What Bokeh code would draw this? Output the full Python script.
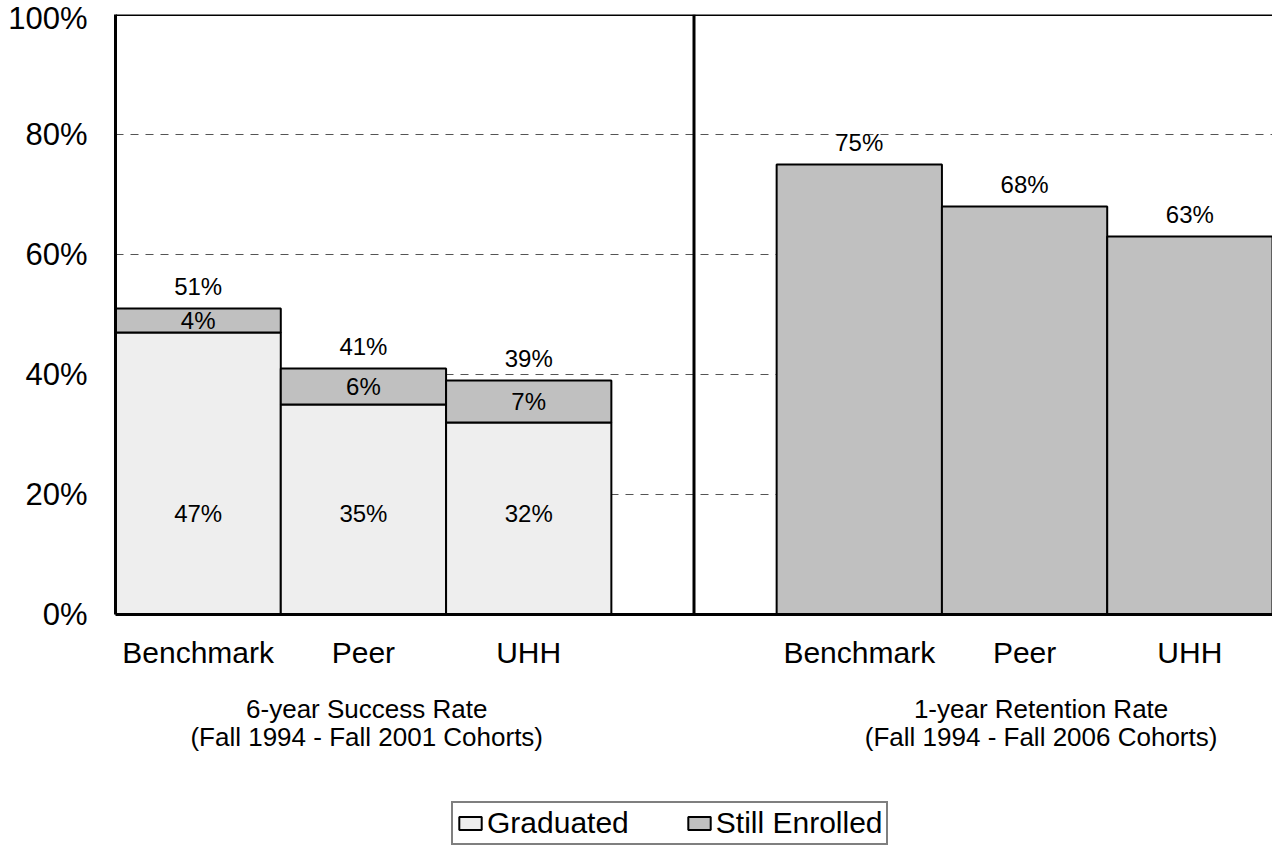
from bokeh.plotting import figure
from bokeh.layouts import column
from bokeh.models import (FixedTicker, Span, Legend, LegendItem, Range1d,
                          ColumnDataSource, LinearAxis)
from bokeh.core.properties import value
from bokeh.embed import file_html
from bokeh.resources import INLINE

# ---- data ----
groups = ["Benchmark", "Peer", "UHH"]
graduated = [47, 35, 32]
still_enrolled = [4, 6, 7]
retention = [75, 68, 63]
y_ticks = [0, 20, 40, 60, 80, 100]
group_titles = ["6-year Success Rate\n(Fall 1994 - Fall 2001 Cohorts)",
                "1-year Retention Rate\n(Fall 1994 - Fall 2006 Cohorts)"]
legend_labels = ["Graduated", "Still Enrolled"]

FONT = "Liberation Sans"
GRAD_COL = "#EEEEEE"
STILL_COL = "#C0C0C0"

# positions: left group slots 0..2, gap slot 3, right group slots 4..6
x_left = [i + 0.5 for i in range(len(groups))]
x_right = [i + 4.5 for i in range(len(groups))]
title_x = [1.52, 5.6]

p = figure(frame_width=1157, frame_height=600,
           x_range=Range1d(0, 7), y_range=Range1d(0, 100),
           output_backend="svg", toolbar_location=None,
           min_border_left=115, min_border_top=14, min_border_right=0,
           min_border_bottom=185, outline_line_color=None,
           background_fill_color="white", border_fill_color="white")

# axes
p.yaxis.ticker = FixedTicker(ticks=y_ticks)
p.yaxis.major_label_overrides = {t: f"{t}%" for t in y_ticks}
p.xaxis.ticker = FixedTicker(ticks=x_left + x_right)
p.xaxis.major_label_overrides = {x: g for x, g in zip(x_left + x_right, groups + groups)}
for ax in (p.xaxis, p.yaxis):
    ax.axis_line_width = 3
    ax.axis_line_color = "black"
    ax.major_tick_line_color = None
    ax.minor_tick_line_color = None
    ax.major_label_text_font = FONT
    ax.major_label_text_color = "black"
p.xaxis.major_label_text_font_size = "30px"
p.yaxis.major_label_text_font_size = "31px"
p.yaxis.major_label_standoff = 22
p.xaxis.major_label_standoff = 15

# group titles as a second, line-less axis below
title_axis = LinearAxis(ticker=FixedTicker(ticks=title_x),
                        major_label_overrides={x: t for x, t in zip(title_x, group_titles)},
                        axis_line_color=None, major_tick_line_color=None,
                        minor_tick_line_color=None, major_label_standoff=16,
                        major_label_text_font=FONT, major_label_text_font_size="26px",
                        major_label_text_color="black",
                        major_label_text_line_height=0.94)
p.add_layout(title_axis, "below")

p.xgrid.grid_line_color = None
p.ygrid.grid_line_color = "#555555"
p.ygrid.grid_line_dash = "8 7"
p.ygrid.grid_line_width = 1

# frame top line and divider
p.add_layout(Span(location=100, dimension="width", line_color="black", line_width=3))
p.add_layout(Span(location=3.5, dimension="height", line_color="black", line_width=3))

# bars
src_l = ColumnDataSource(dict(x=x_left, grad=graduated, still=still_enrolled,
                              total=[g + s for g, s in zip(graduated, still_enrolled)]))
r_grad = p.vbar(x="x", top="grad", bottom=0, width=1, source=src_l,
                fill_color=GRAD_COL, line_color="black", line_width=2)
r_still = p.vbar(x="x", top="total", bottom="grad", width=1, source=src_l,
                 fill_color=STILL_COL, line_color="black", line_width=2)
src_r = ColumnDataSource(dict(x=x_right, ret=retention))
p.vbar(x="x", top="ret", bottom=0, width=1, source=src_r,
       fill_color=STILL_COL, line_color="black", line_width=2)

# data labels
lab_font = dict(text_font=value(FONT), text_font_size="24px", text_color="black",
                text_align="center", text_baseline="middle")
src_l.data["tot_lbl"] = [f"{t}%" for t in src_l.data["total"]]
src_l.data["tot_y"] = [t + 3.6 for t in src_l.data["total"]]
src_l.data["still_lbl"] = [f"{s}%" for s in still_enrolled]
src_l.data["still_y"] = [g + s / 2 for g, s in zip(graduated, still_enrolled)]
src_l.data["grad_lbl"] = [f"{g}%" for g in graduated]
src_l.data["grad_y"] = [16.8] * len(graduated)
p.text(x="x", y="tot_y", text="tot_lbl", source=src_l, **lab_font)
p.text(x="x", y="still_y", text="still_lbl", source=src_l, **lab_font)
p.text(x="x", y="grad_y", text="grad_lbl", source=src_l, **lab_font)
src_r.data["lbl"] = [f"{r}%" for r in retention]
src_r.data["ly"] = [r + 3.6 for r in retention]
p.text(x="x", y="ly", text="lbl", source=src_r, **lab_font)

# legend strip (separate small axis-less figure beneath the chart)
q = figure(width=1273, height=47, x_range=Range1d(0, 1), y_range=Range1d(0, 1),
           x_axis_type=None, y_axis_type=None,
           output_backend="svg", toolbar_location=None, min_border=0,
           outline_line_color=None, background_fill_color="white",
           border_fill_color="white")
q.grid.visible = False
# legend proxies: tiny bars hidden behind the opaque legend box
lg_grad = q.vbar(x=[0.5], top=[0.6], bottom=[0.3], width=0.02, fill_color=GRAD_COL,
                 line_color="black", line_width=2)
lg_still = q.vbar(x=[0.5], top=[0.6], bottom=[0.3], width=0.02, fill_color=STILL_COL,
                  line_color="black", line_width=2)
legend = Legend(items=[LegendItem(label=legend_labels[0], renderers=[lg_grad]),
                       LegendItem(label=legend_labels[1], renderers=[lg_still])],
                orientation="horizontal", location=(336, 1),
                label_text_font=FONT, label_text_font_size="30px",
                label_text_color="black", glyph_width=28, glyph_height=16,
                label_standoff=3, spacing=56, padding=3, margin=0,
                border_line_color="black", border_line_width=2,
                background_fill_color="white", background_fill_alpha=1.0)
q.add_layout(legend, "center")

layout = column(p, q, spacing=0)
open("out.html", "w").write(file_html(layout, INLINE))
